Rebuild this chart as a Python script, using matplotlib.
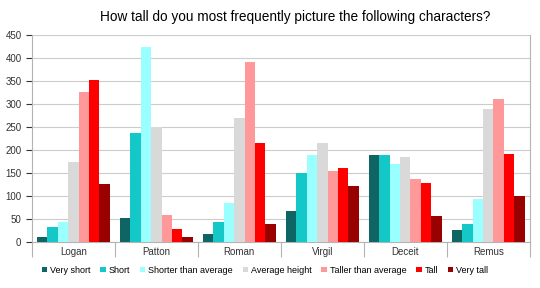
import matplotlib
matplotlib.use("Agg")
import matplotlib.pyplot as plt
import numpy as np

plt.rcParams['font.family'] = ['Liberation Sans', 'DejaVu Sans']

characters = ["Logan", "Patton", "Roman", "Virgil", "Deceit", "Remus"]
answers = ["Very short", "Short", "Shorter than average", "Average height",
           "Taller than average", "Tall", "Very tall"]
very_short = [10, 53, 18, 68, 189, 26]
short = [32, 236, 44, 151, 189, 40]
shorter = [44, 424, 84, 190, 170, 93]
average = [173, 249, 270, 216, 185, 289]
taller = [326, 58, 392, 155, 138, 312]
tall = [353, 28, 215, 160, 128, 192]
very_tall = [125, 10, 38, 121, 57, 100]
colors = ["#0f6464", "#14c8c8", "#99ffff", "#d9d9d9", "#ff9999", "#ff0000", "#990000"]

series = [very_short, short, shorter, average, taller, tall, very_tall]

fig = plt.figure(figsize=(5.4, 2.88), dpi=100)
ax = fig.add_axes([0.059, 0.16, 0.922, 0.718])

x = np.arange(len(characters))
w = 0.88 / len(series)
for i, vals in enumerate(series):
    ax.bar(x - 0.44 + w * (i + 0.5), vals, w, color=colors[i], label=answers[i], zorder=3)

ax.set_xlim(-0.5, len(characters) - 0.5)
ax.set_ylim(0, 450)
ax.set_yticks(range(0, 451, 50))
ax.yaxis.grid(True, color="#cccccc", linewidth=0.8, zorder=0)
ax.set_xticks(x)
ax.set_xticklabels(characters)
ax.tick_params(axis="x", length=0, pad=4)
ax.set_xticks(np.arange(-0.5, len(characters), 1), minor=True)
ax.tick_params(axis="x", which="minor", length=11, color="#b3b3b3", width=0.8)
ax.tick_params(axis="y", length=4, color="#b3b3b3", width=0.8)
ax.tick_params(labelsize=7, colors="#333333")
for s in ["left", "bottom", "right"]:
    ax.spines[s].set_color("#b3b3b3")
    ax.spines[s].set_linewidth(0.8)
ax.spines["top"].set_visible(False)

fig.suptitle("How tall do you most frequently picture the following characters?",
             fontsize=9.8, y=0.965, x=0.547)
ax.legend(loc="upper center", bbox_to_anchor=(0.468, -0.075), ncol=7, frameon=False,
          fontsize=6.5, handlelength=0.6, handleheight=0.6, handletextpad=0.3,
          columnspacing=1.1)

fig.savefig("out.png", dpi=100)
